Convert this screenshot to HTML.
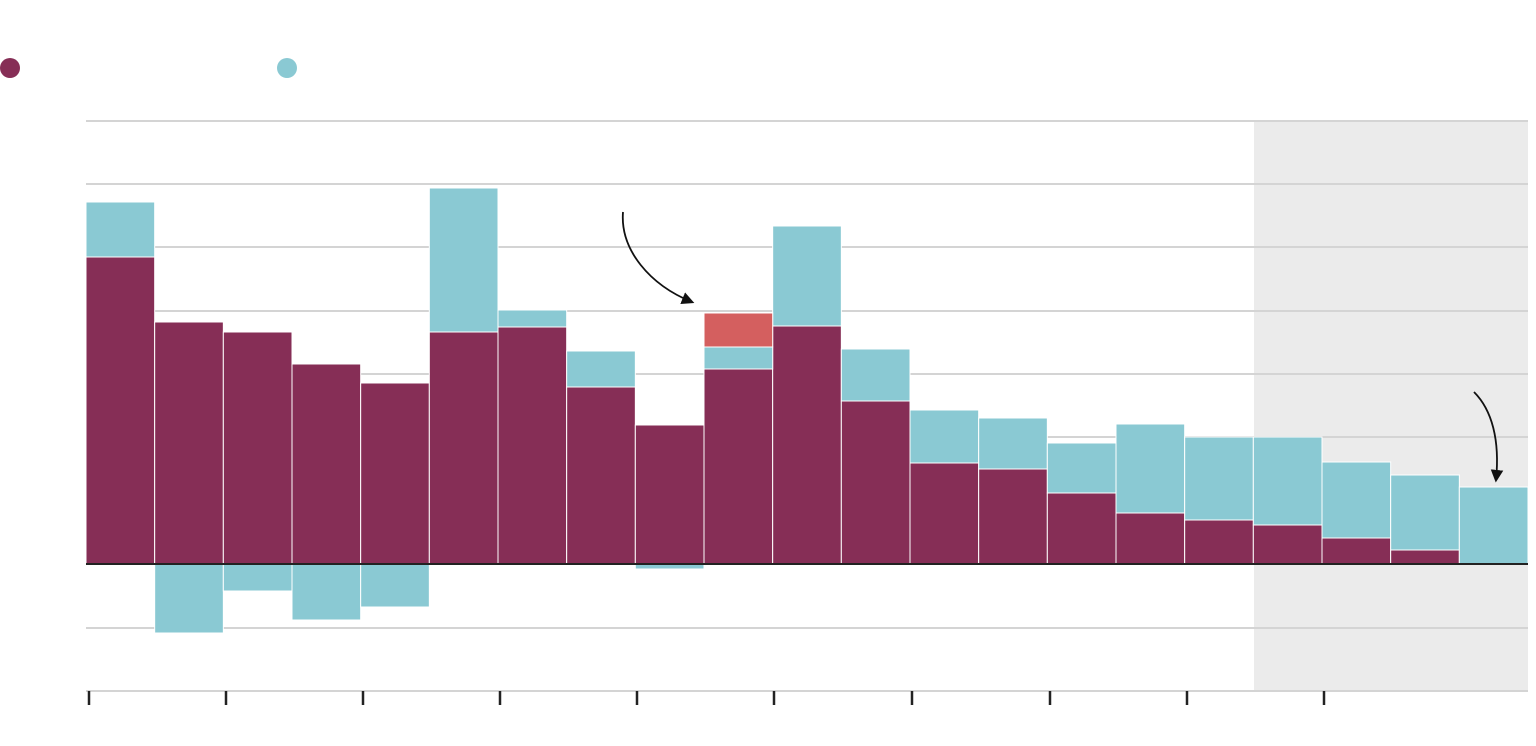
<!DOCTYPE html>
<html><head><meta charset="utf-8"><style>html,body{margin:0;padding:0;background:#fff}svg{display:block}</style></head>
<body>
<svg width="1536" height="746" viewBox="0 0 1536 746" xmlns="http://www.w3.org/2000/svg">
<defs><marker id="ah" viewBox="0 0 10 10" refX="8" refY="5" markerWidth="7" markerHeight="7" orient="auto"><path d="M0,0 L10,5 L0,10 z" fill="#111"/></marker></defs>
<rect x="1254" y="121" width="274" height="570" fill="#ebebeb"/>
<g stroke="#d4d4d4" stroke-width="2">
<line x1="86" x2="1528" y1="121" y2="121"/><line x1="86" x2="1528" y1="184" y2="184"/>
<line x1="86" x2="1528" y1="247" y2="247"/><line x1="86" x2="1528" y1="311" y2="311"/>
<line x1="86" x2="1528" y1="374" y2="374"/><line x1="86" x2="1528" y1="437" y2="437"/>
<line x1="86" x2="1528" y1="628" y2="628"/><line x1="86" x2="1528" y1="691" y2="691"/>
</g>
<circle cx="10" cy="68" r="10" fill="#862e56"/>
<circle cx="287" cy="68" r="10" fill="#8ac9d3"/>
<g stroke="#fff" stroke-width="1">
<g fill="#862e56">
<rect x="86" y="257" width="68.67" height="307"/>
<rect x="154.67" y="322" width="68.67" height="242"/>
<rect x="223.33" y="332" width="68.67" height="232"/>
<rect x="292" y="364" width="68.67" height="200"/>
<rect x="360.67" y="383" width="68.67" height="181"/>
<rect x="429.33" y="332" width="68.67" height="232"/>
<rect x="498" y="327" width="68.67" height="237"/>
<rect x="566.67" y="387" width="68.67" height="177"/>
<rect x="635.33" y="425" width="68.67" height="139"/>
<rect x="704" y="369" width="68.67" height="195"/>
<rect x="772.67" y="326" width="68.67" height="238"/>
<rect x="841.33" y="401" width="68.67" height="163"/>
<rect x="910" y="463" width="68.67" height="101"/>
<rect x="978.67" y="469" width="68.67" height="95"/>
<rect x="1047.33" y="493" width="68.67" height="71"/>
<rect x="1116" y="513" width="68.67" height="51"/>
<rect x="1184.67" y="520" width="68.67" height="44"/>
<rect x="1253.33" y="525" width="68.67" height="39"/>
<rect x="1322" y="538" width="68.67" height="26"/>
<rect x="1390.67" y="550" width="68.67" height="14"/>
</g>
<g fill="#8ac9d3">
<rect x="86" y="202" width="68.67" height="55"/>
<rect x="154.67" y="564" width="68.67" height="69"/>
<rect x="223.33" y="564" width="68.67" height="27"/>
<rect x="292" y="564" width="68.67" height="56"/>
<rect x="360.67" y="564" width="68.67" height="43"/>
<rect x="429.33" y="188" width="68.67" height="144"/>
<rect x="498" y="310" width="68.67" height="17"/>
<rect x="566.67" y="351" width="68.67" height="36"/>
<rect x="635.33" y="564" width="68.67" height="5"/>
<rect x="704" y="347" width="68.67" height="22"/>
<rect x="772.67" y="226" width="68.67" height="100"/>
<rect x="841.33" y="349" width="68.67" height="52"/>
<rect x="910" y="410" width="68.67" height="53"/>
<rect x="978.67" y="418" width="68.67" height="51"/>
<rect x="1047.33" y="443" width="68.67" height="50"/>
<rect x="1116" y="424" width="68.67" height="89"/>
<rect x="1184.67" y="437" width="68.67" height="83"/>
<rect x="1253.33" y="437" width="68.67" height="88"/>
<rect x="1322" y="462" width="68.67" height="76"/>
<rect x="1390.67" y="475" width="68.67" height="75"/>
<rect x="1459.33" y="487" width="68.67" height="77"/>
</g>
<rect x="704" y="313" width="68.67" height="34" fill="#d45f5f"/>
</g>
<line x1="86" x2="1528" y1="564" y2="564" stroke="#222" stroke-width="2"/>
<g stroke="#222" stroke-width="2.5">
<line x1="89" x2="89" y1="691" y2="705"/><line x1="226" x2="226" y1="691" y2="705"/>
<line x1="363" x2="363" y1="691" y2="705"/><line x1="500" x2="500" y1="691" y2="705"/>
<line x1="637" x2="637" y1="691" y2="705"/><line x1="774" x2="774" y1="691" y2="705"/>
<line x1="912" x2="912" y1="691" y2="705"/><line x1="1050" x2="1050" y1="691" y2="705"/>
<line x1="1187" x2="1187" y1="691" y2="705"/><line x1="1324" x2="1324" y1="691" y2="705"/>
</g>
<path d="M623,212 C620,250 650,285 692,302" fill="none" stroke="#111" stroke-width="1.8" marker-end="url(#ah)"/>
<path d="M1474,392 C1492,410 1500,440 1496,480" fill="none" stroke="#111" stroke-width="1.8" marker-end="url(#ah)"/>
</svg>
</body></html>
